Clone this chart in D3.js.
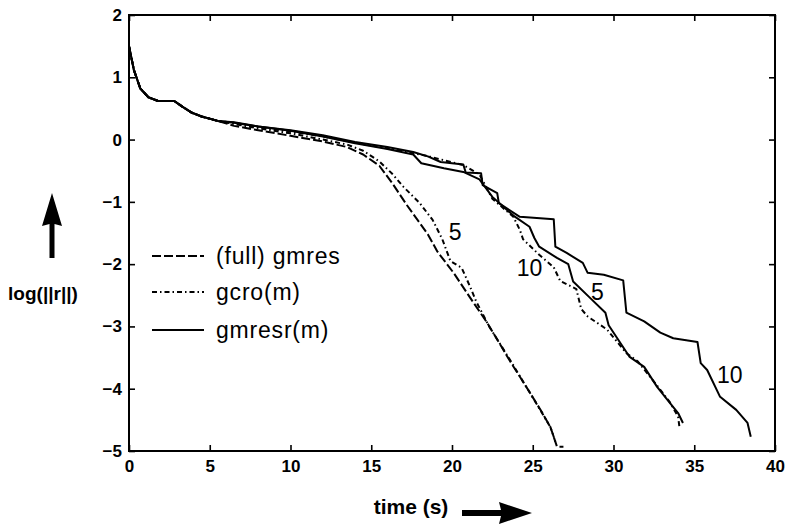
<!DOCTYPE html>
<html>
<head>
<meta charset="utf-8">
<script src="https://cdn.jsdelivr.net/npm/d3@7"></script>
<style>
  body { margin: 0; background: #fff; }
  text { font-family: "Liberation Sans", Arial, sans-serif; fill: #000; }
  .axis text { font-size: 17px; font-weight: bold; }
  .axis path { display: none; }
  .axis line { stroke: #000; stroke-width: 1.6; }
</style>
</head>
<body>
<div id="chart"></div>
<script>
// ---- data: [time (s), log(||r||)] ----
var startCurve = [[0,1.5],[0.3,1.12],[0.7,0.82],[1.2,0.68],[1.8,0.62],[2.8,0.62],[3.3,0.53],[3.9,0.43],[4.5,0.37],[5.5,0.3]];

var fullGmres = [[6.5,0.22],[8,0.15],[10,0.06],[12,-0.03],[13.5,-0.12],[14.5,-0.24],[15.5,-0.42],[16.3,-0.7],[17.2,-1.05],[18.5,-1.52],[19.1,-1.8],[20.1,-2.14],[21.1,-2.53],[22.2,-2.95],[23.6,-3.56],[24.6,-3.97],[25.6,-4.39],[26.1,-4.62],[26.5,-4.93],[26.9,-4.93]];

var gcro5 = [[6.5,0.25],[8,0.18],[10,0.1],[12,0.0],[13.5,-0.08],[14.5,-0.18],[15.5,-0.35],[16.3,-0.55],[17.0,-0.76],[18.0,-1.02],[18.8,-1.29],[19.4,-1.6],[19.9,-1.95],[20.6,-2.06],[21.1,-2.35],[21.5,-2.6],[22.3,-3.0],[23.6,-3.54],[24.6,-3.97],[25.6,-4.4],[26.1,-4.62],[26.4,-4.85]];

var gcro10 = [[6.5,0.27],[8,0.2],[10,0.13],[12,0.05],[14,-0.05],[16,-0.14],[17.6,-0.22],[18.4,-0.26],[20.7,-0.41],[21.7,-0.56],[22.5,-0.95],[23.8,-1.24],[24.2,-1.45],[24.4,-1.6],[25.4,-1.85],[26.3,-2.05],[26.7,-2.27],[27.7,-2.4],[28.0,-2.72],[28.4,-2.84],[29.6,-3.05],[30.8,-3.43],[31.5,-3.56],[32.7,-3.95],[33.5,-4.22],[34.0,-4.45],[34.1,-4.65]];

var gmresr5 = [[6.5,0.27],[8,0.21],[10,0.14],[12,0.05],[14,-0.06],[16,-0.15],[17.6,-0.24],[18.1,-0.38],[19.5,-0.46],[20.7,-0.52],[21.7,-0.64],[22.5,-0.92],[23.8,-1.22],[24.8,-1.4],[25.1,-1.58],[25.4,-1.72],[26.5,-1.9],[27.2,-2.0],[27.5,-2.28],[28.5,-2.53],[29.5,-2.78],[29.7,-2.98],[31.0,-3.49],[31.9,-3.65],[32.7,-3.97],[33.5,-4.23],[34.0,-4.39],[34.3,-4.55]];

var gmresr10 = [[6.5,0.28],[8,0.21],[10,0.15],[12,0.07],[14,-0.04],[16,-0.12],[17.6,-0.2],[18.5,-0.27],[19.3,-0.36],[20.7,-0.4],[20.85,-0.53],[21.8,-0.54],[21.9,-0.73],[22.8,-0.86],[22.9,-1.02],[24.2,-1.24],[26.3,-1.28],[26.4,-1.72],[27.1,-1.82],[28.1,-1.98],[28.4,-2.14],[29.4,-2.17],[30.6,-2.26],[30.8,-2.78],[31.9,-2.92],[32.9,-3.1],[33.7,-3.19],[35.2,-3.25],[35.4,-3.59],[35.8,-3.7],[36.6,-4.13],[37.6,-4.34],[38.3,-4.55],[38.5,-4.77]];

var xTicks = [0,5,10,15,20,25,30,35,40];
var yTicks = [2,1,0,-1,-2,-3,-4,-5];

var legendNames = ["(full) gmres", "gcro(m)", "gmresr(m)"];
var legendDash = ["9,3", "5,3,1.5,3", null];

// curve labels: text, time, value
var curveLabels = [["5",20.2,-1.48],["10",24.8,-2.06],["5",29.0,-2.45],["10",37.2,-3.78]];

var series = [
  {pts: fullGmres, dash: "9,3"},
  {pts: gcro5, dash: "5,3,1.5,3"},
  {pts: gcro10, dash: "5,3,1.5,3"},
  {pts: gmresr5, dash: null},
  {pts: gmresr10, dash: null}
];

var W = 786, H = 528;
var plotL = 129, plotR = 775, plotT = 15, plotB = 451;

var svg = d3.select("#chart").append("svg")
            .attr("width", W)
            .attr("height", H);

var x = d3.scaleLinear().domain([0, 40]).range([plotL, plotR]);
var y = d3.scaleLinear().domain([-5, 2]).range([plotB, plotT]);

var line = d3.line()
             .x(function(d) { return x(d[0]); })
             .y(function(d) { return y(d[1]); });

// axes with inward ticks on all four sides
svg.append("g").attr("class", "axis")
   .attr("transform", "translate(0," + plotB + ")")
   .call(d3.axisBottom(x).tickValues(xTicks).tickSize(-6).tickPadding(9).tickFormat(d3.format("d")));
svg.append("g").attr("class", "axis")
   .attr("transform", "translate(0," + plotT + ")")
   .call(d3.axisTop(x).tickValues(xTicks).tickSize(-6).tickFormat(""));
svg.append("g").attr("class", "axis")
   .attr("transform", "translate(" + plotL + ",0)")
   .call(d3.axisLeft(y).tickValues(yTicks).tickSize(-6).tickPadding(7).tickFormat(d3.format("d")));
svg.append("g").attr("class", "axis")
   .attr("transform", "translate(" + plotR + ",0)")
   .call(d3.axisRight(y).tickValues(yTicks).tickSize(-6).tickFormat(""));

svg.append("rect")
   .attr("x", plotL).attr("y", plotT)
   .attr("width", plotR - plotL).attr("height", plotB - plotT)
   .attr("fill", "none").attr("stroke", "#000").attr("stroke-width", 2);

// curves
svg.selectAll(".curve")
   .data(series)
   .enter()
   .append("path")
   .attr("class", "curve")
   .attr("d", function(d) { return line(startCurve.concat(d.pts)); })
   .attr("fill", "none")
   .attr("stroke", "#000")
   .attr("stroke-width", 2)
   .attr("stroke-linejoin", "round")
   .attr("stroke-dasharray", function(d) { return d.dash; });

svg.selectAll(".clabel")
   .data(curveLabels)
   .enter()
   .append("text")
   .attr("class", "clabel")
   .attr("x", function(d) { return x(d[1]); })
   .attr("y", function(d) { return y(d[2]); })
   .attr("dy", "0.35em")
   .attr("text-anchor", "middle")
   .style("font-size", "23px")
   .text(function(d) { return d[0]; });

// legend
var legendY = [256, 292, 330];
var legend = svg.selectAll(".legend")
                .data(legendNames)
                .enter()
                .append("g")
                .attr("class", "legend")
                .attr("transform", function(d, i) { return "translate(152," + legendY[i] + ")"; });
legend.append("line")
      .attr("x1", 0).attr("x2", 52)
      .attr("stroke", "#000").attr("stroke-width", 2)
      .attr("stroke-dasharray", function(d, i) { return legendDash[i]; });
legend.append("text")
      .attr("x", 64)
      .attr("dy", "0.35em")
      .style("font-size", "23px")
      .style("letter-spacing", "0.8px")
      .text(function(d) { return d; });

// axis titles with arrows
svg.append("text")
   .attr("x", 43).attr("y", 293)
   .attr("dy", "0.35em")
   .attr("text-anchor", "middle")
   .style("font-size", "19px").style("font-weight", "bold")
   .text("log(||r||)");
svg.append("path")
   .attr("d", "M52,193 L62,226 L54.5,224 L54.5,258 L49.5,258 L49.5,224 L42,226 Z")
   .attr("fill", "#000");

svg.append("text")
   .attr("x", 411).attr("y", 507)
   .attr("dy", "0.35em")
   .attr("text-anchor", "middle")
   .style("font-size", "21px").style("font-weight", "bold")
   .text("time (s)");
svg.append("path")
   .attr("d", "M532,513 L499,502 L501,510 L462,510 L462,516 L501,516 L499,524 Z")
   .attr("fill", "#000");
</script>
</body>
</html>
